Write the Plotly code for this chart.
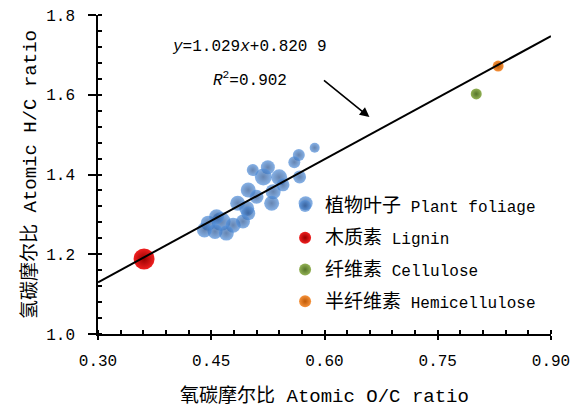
import plotly.graph_objects as go

# ---------------- data ----------------
foliage_oc = [0.587, 0.566, 0.560, 0.567, 0.505, 0.525, 0.519, 0.540, 0.545, 0.499,
              0.532, 0.530, 0.575, 0.497, 0.510, 0.485, 0.499, 0.463, 0.446, 0.479,
              0.455, 0.470, 0.441, 0.492, 0.457]
foliage_hc = [1.467, 1.449, 1.431, 1.394, 1.411, 1.418, 1.394, 1.393, 1.374, 1.361,
              1.357, 1.328, 1.328, 1.315, 1.344, 1.328, 1.303, 1.282, 1.278, 1.273,
              1.257, 1.253, 1.261, 1.282, 1.294]
lignin_oc = [0.361]
lignin_hc = [1.188]
cellulose_oc = [0.801]
cellulose_hc = [1.602]
hemi_oc = [0.830]
hemi_hc = [1.672]

fit_slope = 1.029
fit_intercept = 0.8209
fit_range = [0.30, 0.90]

x_ticks = [0.30, 0.45, 0.60, 0.75, 0.90]
y_ticks = [1.0, 1.2, 1.4, 1.6, 1.8]

# ---------------- style ----------------
foliage_sizes = [10, 12, 12, 13, 12, 14, 17, 16, 13, 15,
                 15, 15, 14, 15, 14, 15, 14, 19, 15, 15,
                 15, 15, 15, 14, 15]

FONT = "Liberation Mono, Noto Sans CJK SC, sans-serif"


def cjk(s):
    return f'<span style="font-size:19px">{s}</span>'


fig = go.Figure()

fig.add_trace(go.Scatter(
    x=foliage_oc, y=foliage_hc, mode="markers",
    name=cjk("植物叶子") + " Plant foliage", legendgroup="a",
    marker=dict(size=foliage_sizes, color="#5290dc", line=dict(width=0),
                gradient=dict(type="radial", color="#24508f")),
))
fig.add_trace(go.Scatter(
    x=lignin_oc, y=lignin_hc, mode="markers",
    name=cjk("木质素") + " Lignin", legendgroup="b",
    marker=dict(size=21, color="#f02020", line=dict(width=0),
                gradient=dict(type="radial", color="#9a0000")),
))
fig.add_trace(go.Scatter(
    x=cellulose_oc, y=cellulose_hc, mode="markers",
    name=cjk("纤维素") + " Cellulose", legendgroup="c",
    marker=dict(size=11, color="#93b255", line=dict(width=0),
                gradient=dict(type="radial", color="#56752a")),
))
fig.add_trace(go.Scatter(
    x=hemi_oc, y=hemi_hc, mode="markers",
    name=cjk("半纤维素") + " Hemicellulose", legendgroup="d",
    marker=dict(size=11, color="#f5913a", line=dict(width=0),
                gradient=dict(type="radial", color="#c05a06")),
))

fit_y = [fit_slope * v + fit_intercept for v in fit_range]
fig.add_trace(go.Scatter(
    x=fit_range, y=fit_y, mode="lines", showlegend=False,
    line=dict(color="black", width=2), hoverinfo="skip",
))

# page has an 8px body margin: figure is sized/offset to compensate
fig.update_layout(
    width=574, height=406,
    margin=dict(l=90, r=31, t=7, b=80),
    paper_bgcolor="white", plot_bgcolor="white",
    font=dict(family=FONT, size=16, color="black"),
    showlegend=True,
    legend=dict(x=0.413, y=0.4545, xanchor="left", yanchor="top",
                bgcolor="rgba(0,0,0,0)", itemsizing="constant",
                tracegroupgap=8, font=dict(size=16)),
    annotations=[
        dict(x=0.501, y=1.72, xref="x", yref="y", showarrow=False,
             text="<i>y</i>=1.029<i>x</i>+0.820 9", font=dict(size=16)),
        dict(x=0.501, y=1.6395, xref="x", yref="y", showarrow=False,
             text="<i>R</i><sup>2</sup>=0.902", font=dict(size=16)),
        dict(x=0.6595, y=1.544, xref="x", yref="y",
             ax=0.5907, ay=1.6495, axref="x", ayref="y",
             text=" ", showarrow=True, arrowhead=2, arrowsize=1.2,
             arrowwidth=1.6, arrowcolor="black"),
    ],
)

fig.update_xaxes(
    range=[0.30, 0.90], tickvals=x_ticks, tickformat=".2f",
    automargin=False, ticklabeloverflow="allow",
    showgrid=False, zeroline=False, showline=True,
    linecolor="black", linewidth=1.5,
    ticks="outside", ticklen=4, tickwidth=1.5, tickcolor="black",
    ticklabelstandoff=7,
    minor=dict(dtick=0.03, tick0=0.30, ticks="inside", ticklen=4,
               tickwidth=1.5, tickcolor="black", showgrid=False),
    title=dict(text=cjk("氧碳摩尔比") + " Atomic O/C ratio", standoff=19),
)
fig.update_yaxes(
    range=[1.0, 1.8], tickvals=y_ticks, tickformat=".1f",
    automargin=False, ticklabeloverflow="allow",
    showgrid=False, zeroline=False, showline=True,
    linecolor="black", linewidth=1.5,
    ticks="outside", ticklen=8, tickwidth=1.5, tickcolor="black",
    ticklabelstandoff=10,
    minor=dict(dtick=0.04, tick0=1.0, ticks="inside", ticklen=4,
               tickwidth=1.5, tickcolor="black", showgrid=False),
    title=dict(text=cjk("氢碳摩尔比") + " Atomic H/C ratio", standoff=5),
)

fig.write_html("out.html")
